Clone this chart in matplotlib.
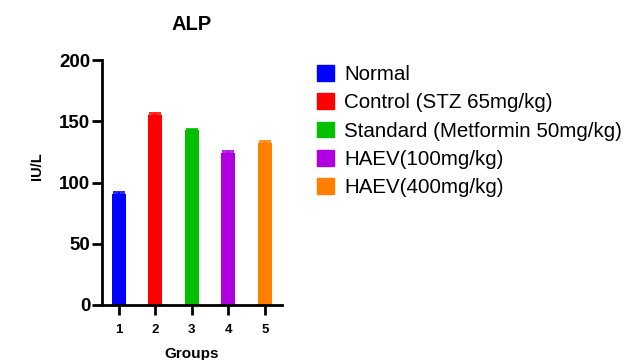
import matplotlib.pyplot as plt
from matplotlib.patches import Patch

groups = [1, 2, 3, 4, 5]
values = [90.5, 155.0, 143.0, 124.5, 132.5]
errors = [2.0, 1.5, 0.7, 1.5, 1.2]
labels = ["Normal", "Control (STZ 65mg/kg)", "Standard (Metformin 50mg/kg)",
          "HAEV(100mg/kg)", "HAEV(400mg/kg)"]
colors = ["#0000FF", "#FF0000", "#00C000", "#B000E0", "#FF8000"]

plt.rcParams['font.family'] = ['Liberation Sans', 'DejaVu Sans']

fig = plt.figure(figsize=(6.35, 3.6), dpi=100)
ax = fig.add_axes([0.16, 0.153, 0.284, 0.68])

for g, v, e, c in zip(groups, values, errors, colors):
    ax.bar(g, v, width=0.38, color=c)
    ax.errorbar(g, v, yerr=[[0], [e]], ecolor=c, capsize=4, elinewidth=1.2, capthick=1.2, fmt='none')

ax.set_xlim(0.53, 5.47)
ax.set_ylim(0, 200)
ax.set_yticks([0, 50, 100, 150, 200])
ax.set_xticks(groups)
ax.set_xticklabels([str(g) for g in groups], fontsize=9.5, fontweight='bold')
for t in ax.get_yticklabels():
    t.set_fontsize(13.5)
    t.set_fontweight('bold')
ax.spines['top'].set_visible(False)
ax.spines['right'].set_visible(False)
ax.spines['left'].set_linewidth(2)
ax.spines['bottom'].set_linewidth(2)
ax.tick_params(axis='both', width=2, length=7)
ax.tick_params(axis='y', pad=1)
ax.tick_params(axis='x', pad=7)

ax.set_title("ALP", fontsize=14.5, fontweight='bold', pad=22)
ax.set_ylabel("IU/L", fontsize=10.5, fontweight='bold')
ax.yaxis.set_label_coords(-0.32, 0.567)
ax.set_xlabel("Groups", fontsize=11, fontweight='bold', labelpad=8)

handles = [Patch(color=c) for c in colors]
fig.legend(handles, labels, loc='upper left', bbox_to_anchor=(0.487, 0.842),
           frameon=False, fontsize=14.8, handlelength=0.8, handleheight=0.8,
           labelspacing=0.45, handletextpad=0.5, borderaxespad=0)

fig.savefig("out.png", dpi=100)
